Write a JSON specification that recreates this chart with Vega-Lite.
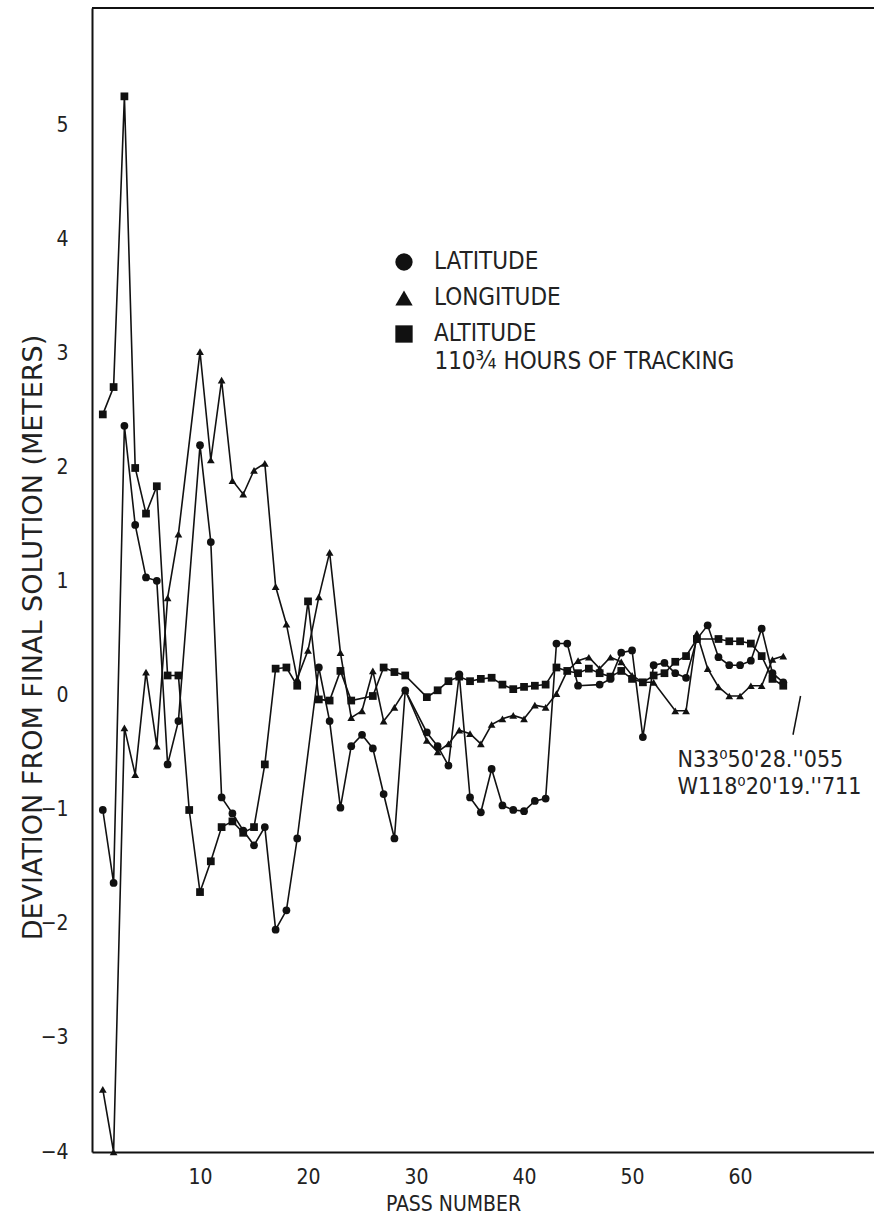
{
  "$schema": "https://vega.github.io/schema/vega-lite/v6.json",
  "width": 782,
  "height": 1144,
  "autosize": {"type": "none"},
  "padding": {"left": 92, "top": 8, "right": 0, "bottom": 70},
  "background": "white",
  "config": {
    "view": {"stroke": null},
    "font": "Liberation Sans Narrow, DejaVu Sans Condensed, Liberation Sans, sans-serif",
    "axis": {
      "domainColor": "#111",
      "domainWidth": 2,
      "ticks": false,
      "grid": false,
      "labelColor": "#222",
      "titleColor": "#222",
      "labelFont": "Liberation Sans Narrow, DejaVu Sans Condensed, sans-serif",
      "titleFont": "Liberation Sans Narrow, DejaVu Sans Condensed, sans-serif",
      "titleFontWeight": "normal"
    }
  },
  "datasets": {
    "notes": [
      {"kind": "tracking", "label": "110¾ HOURS OF TRACKING"},
      {"kind": "position", "label": "N33⁰50'28.''055"}
    ],
    "frame": [{"edge": "top"}]
  },
  "data": {
    "values": [
      {"series": "LATITUDE", "pass": 1, "value": -1.0},
      {"series": "LATITUDE", "pass": 2, "value": -1.64},
      {"series": "LATITUDE", "pass": 3, "value": 2.37},
      {"series": "LATITUDE", "pass": 4, "value": 1.5},
      {"series": "LATITUDE", "pass": 5, "value": 1.04},
      {"series": "LATITUDE", "pass": 6, "value": 1.01},
      {"series": "LATITUDE", "pass": 7, "value": -0.6},
      {"series": "LATITUDE", "pass": 8, "value": -0.22},
      {"series": "LATITUDE", "pass": 10, "value": 2.2},
      {"series": "LATITUDE", "pass": 11, "value": 1.35},
      {"series": "LATITUDE", "pass": 12, "value": -0.89},
      {"series": "LATITUDE", "pass": 13, "value": -1.03},
      {"series": "LATITUDE", "pass": 14, "value": -1.18},
      {"series": "LATITUDE", "pass": 15, "value": -1.31},
      {"series": "LATITUDE", "pass": 16, "value": -1.15},
      {"series": "LATITUDE", "pass": 17, "value": -2.05},
      {"series": "LATITUDE", "pass": 18, "value": -1.88},
      {"series": "LATITUDE", "pass": 19, "value": -1.25},
      {"series": "LATITUDE", "pass": 21, "value": 0.25},
      {"series": "LATITUDE", "pass": 22, "value": -0.22},
      {"series": "LATITUDE", "pass": 23, "value": -0.98},
      {"series": "LATITUDE", "pass": 24, "value": -0.44},
      {"series": "LATITUDE", "pass": 25, "value": -0.34},
      {"series": "LATITUDE", "pass": 26, "value": -0.46},
      {"series": "LATITUDE", "pass": 27, "value": -0.86},
      {"series": "LATITUDE", "pass": 28, "value": -1.25},
      {"series": "LATITUDE", "pass": 29, "value": 0.05},
      {"series": "LATITUDE", "pass": 31, "value": -0.32},
      {"series": "LATITUDE", "pass": 32, "value": -0.44},
      {"series": "LATITUDE", "pass": 33, "value": -0.61},
      {"series": "LATITUDE", "pass": 34, "value": 0.19},
      {"series": "LATITUDE", "pass": 35, "value": -0.89},
      {"series": "LATITUDE", "pass": 36, "value": -1.02},
      {"series": "LATITUDE", "pass": 37, "value": -0.64},
      {"series": "LATITUDE", "pass": 38, "value": -0.96},
      {"series": "LATITUDE", "pass": 39, "value": -1.0},
      {"series": "LATITUDE", "pass": 40, "value": -1.01},
      {"series": "LATITUDE", "pass": 41, "value": -0.92},
      {"series": "LATITUDE", "pass": 42, "value": -0.9},
      {"series": "LATITUDE", "pass": 43, "value": 0.46},
      {"series": "LATITUDE", "pass": 44, "value": 0.46},
      {"series": "LATITUDE", "pass": 45, "value": 0.09},
      {"series": "LATITUDE", "pass": 47, "value": 0.1},
      {"series": "LATITUDE", "pass": 48, "value": 0.15},
      {"series": "LATITUDE", "pass": 49, "value": 0.38},
      {"series": "LATITUDE", "pass": 50, "value": 0.4},
      {"series": "LATITUDE", "pass": 51, "value": -0.36},
      {"series": "LATITUDE", "pass": 52, "value": 0.27},
      {"series": "LATITUDE", "pass": 53, "value": 0.29},
      {"series": "LATITUDE", "pass": 54, "value": 0.2},
      {"series": "LATITUDE", "pass": 55, "value": 0.16},
      {"series": "LATITUDE", "pass": 56, "value": 0.5},
      {"series": "LATITUDE", "pass": 57, "value": 0.62},
      {"series": "LATITUDE", "pass": 58, "value": 0.34},
      {"series": "LATITUDE", "pass": 59, "value": 0.27},
      {"series": "LATITUDE", "pass": 60, "value": 0.27},
      {"series": "LATITUDE", "pass": 61, "value": 0.31},
      {"series": "LATITUDE", "pass": 62, "value": 0.59},
      {"series": "LATITUDE", "pass": 63, "value": 0.2},
      {"series": "LATITUDE", "pass": 64, "value": 0.12},
      {"series": "LONGITUDE", "pass": 1, "value": -3.45},
      {"series": "LONGITUDE", "pass": 2, "value": -4.0},
      {"series": "LONGITUDE", "pass": 3, "value": -0.28},
      {"series": "LONGITUDE", "pass": 4, "value": -0.69},
      {"series": "LONGITUDE", "pass": 5, "value": 0.21},
      {"series": "LONGITUDE", "pass": 6, "value": -0.44},
      {"series": "LONGITUDE", "pass": 7, "value": 0.86},
      {"series": "LONGITUDE", "pass": 8, "value": 1.42},
      {"series": "LONGITUDE", "pass": 10, "value": 3.02},
      {"series": "LONGITUDE", "pass": 11, "value": 2.07},
      {"series": "LONGITUDE", "pass": 12, "value": 2.77},
      {"series": "LONGITUDE", "pass": 13, "value": 1.89},
      {"series": "LONGITUDE", "pass": 14, "value": 1.77},
      {"series": "LONGITUDE", "pass": 15, "value": 1.98},
      {"series": "LONGITUDE", "pass": 16, "value": 2.04},
      {"series": "LONGITUDE", "pass": 17, "value": 0.96},
      {"series": "LONGITUDE", "pass": 18, "value": 0.63},
      {"series": "LONGITUDE", "pass": 19, "value": 0.15},
      {"series": "LONGITUDE", "pass": 20, "value": 0.4},
      {"series": "LONGITUDE", "pass": 21, "value": 0.87},
      {"series": "LONGITUDE", "pass": 22, "value": 1.26},
      {"series": "LONGITUDE", "pass": 23, "value": 0.38},
      {"series": "LONGITUDE", "pass": 24, "value": -0.19},
      {"series": "LONGITUDE", "pass": 25, "value": -0.13},
      {"series": "LONGITUDE", "pass": 26, "value": 0.22},
      {"series": "LONGITUDE", "pass": 27, "value": -0.22},
      {"series": "LONGITUDE", "pass": 28, "value": -0.1},
      {"series": "LONGITUDE", "pass": 29, "value": 0.05},
      {"series": "LONGITUDE", "pass": 31, "value": -0.39},
      {"series": "LONGITUDE", "pass": 32, "value": -0.49},
      {"series": "LONGITUDE", "pass": 33, "value": -0.42},
      {"series": "LONGITUDE", "pass": 34, "value": -0.3},
      {"series": "LONGITUDE", "pass": 35, "value": -0.33},
      {"series": "LONGITUDE", "pass": 36, "value": -0.42},
      {"series": "LONGITUDE", "pass": 37, "value": -0.25},
      {"series": "LONGITUDE", "pass": 38, "value": -0.2},
      {"series": "LONGITUDE", "pass": 39, "value": -0.17},
      {"series": "LONGITUDE", "pass": 40, "value": -0.2},
      {"series": "LONGITUDE", "pass": 41, "value": -0.08},
      {"series": "LONGITUDE", "pass": 42, "value": -0.1},
      {"series": "LONGITUDE", "pass": 43, "value": 0.02},
      {"series": "LONGITUDE", "pass": 44, "value": 0.22},
      {"series": "LONGITUDE", "pass": 45, "value": 0.31},
      {"series": "LONGITUDE", "pass": 46, "value": 0.34},
      {"series": "LONGITUDE", "pass": 47, "value": 0.24},
      {"series": "LONGITUDE", "pass": 48, "value": 0.34},
      {"series": "LONGITUDE", "pass": 49, "value": 0.3},
      {"series": "LONGITUDE", "pass": 50, "value": 0.18},
      {"series": "LONGITUDE", "pass": 51, "value": 0.12},
      {"series": "LONGITUDE", "pass": 52, "value": 0.12},
      {"series": "LONGITUDE", "pass": 54, "value": -0.13},
      {"series": "LONGITUDE", "pass": 55, "value": -0.13},
      {"series": "LONGITUDE", "pass": 56, "value": 0.55},
      {"series": "LONGITUDE", "pass": 57, "value": 0.24},
      {"series": "LONGITUDE", "pass": 58, "value": 0.08},
      {"series": "LONGITUDE", "pass": 59, "value": 0.0},
      {"series": "LONGITUDE", "pass": 60, "value": 0.0},
      {"series": "LONGITUDE", "pass": 61, "value": 0.09},
      {"series": "LONGITUDE", "pass": 62, "value": 0.09},
      {"series": "LONGITUDE", "pass": 63, "value": 0.32},
      {"series": "LONGITUDE", "pass": 64, "value": 0.35},
      {"series": "ALTITUDE", "pass": 1, "value": 2.47},
      {"series": "ALTITUDE", "pass": 2, "value": 2.71},
      {"series": "ALTITUDE", "pass": 3, "value": 5.26},
      {"series": "ALTITUDE", "pass": 4, "value": 2.0},
      {"series": "ALTITUDE", "pass": 5, "value": 1.6},
      {"series": "ALTITUDE", "pass": 6, "value": 1.84},
      {"series": "ALTITUDE", "pass": 7, "value": 0.18},
      {"series": "ALTITUDE", "pass": 8, "value": 0.18},
      {"series": "ALTITUDE", "pass": 9, "value": -1.0},
      {"series": "ALTITUDE", "pass": 10, "value": -1.72},
      {"series": "ALTITUDE", "pass": 11, "value": -1.45},
      {"series": "ALTITUDE", "pass": 12, "value": -1.15},
      {"series": "ALTITUDE", "pass": 13, "value": -1.1},
      {"series": "ALTITUDE", "pass": 14, "value": -1.2},
      {"series": "ALTITUDE", "pass": 15, "value": -1.15},
      {"series": "ALTITUDE", "pass": 16, "value": -0.6},
      {"series": "ALTITUDE", "pass": 17, "value": 0.24},
      {"series": "ALTITUDE", "pass": 18, "value": 0.25},
      {"series": "ALTITUDE", "pass": 19, "value": 0.09},
      {"series": "ALTITUDE", "pass": 20, "value": 0.83},
      {"series": "ALTITUDE", "pass": 21, "value": -0.03},
      {"series": "ALTITUDE", "pass": 22, "value": -0.04},
      {"series": "ALTITUDE", "pass": 23, "value": 0.22},
      {"series": "ALTITUDE", "pass": 24, "value": -0.04},
      {"series": "ALTITUDE", "pass": 26, "value": 0.0},
      {"series": "ALTITUDE", "pass": 27, "value": 0.25},
      {"series": "ALTITUDE", "pass": 28, "value": 0.21},
      {"series": "ALTITUDE", "pass": 29, "value": 0.18},
      {"series": "ALTITUDE", "pass": 31, "value": -0.01},
      {"series": "ALTITUDE", "pass": 32, "value": 0.05},
      {"series": "ALTITUDE", "pass": 33, "value": 0.13},
      {"series": "ALTITUDE", "pass": 34, "value": 0.17},
      {"series": "ALTITUDE", "pass": 35, "value": 0.13},
      {"series": "ALTITUDE", "pass": 36, "value": 0.15},
      {"series": "ALTITUDE", "pass": 37, "value": 0.16},
      {"series": "ALTITUDE", "pass": 38, "value": 0.1},
      {"series": "ALTITUDE", "pass": 39, "value": 0.06},
      {"series": "ALTITUDE", "pass": 40, "value": 0.08},
      {"series": "ALTITUDE", "pass": 41, "value": 0.09},
      {"series": "ALTITUDE", "pass": 42, "value": 0.1},
      {"series": "ALTITUDE", "pass": 43, "value": 0.25},
      {"series": "ALTITUDE", "pass": 44, "value": 0.22},
      {"series": "ALTITUDE", "pass": 45, "value": 0.2},
      {"series": "ALTITUDE", "pass": 46, "value": 0.24},
      {"series": "ALTITUDE", "pass": 47, "value": 0.2},
      {"series": "ALTITUDE", "pass": 48, "value": 0.17},
      {"series": "ALTITUDE", "pass": 49, "value": 0.22},
      {"series": "ALTITUDE", "pass": 50, "value": 0.15},
      {"series": "ALTITUDE", "pass": 51, "value": 0.12},
      {"series": "ALTITUDE", "pass": 52, "value": 0.18},
      {"series": "ALTITUDE", "pass": 53, "value": 0.2},
      {"series": "ALTITUDE", "pass": 54, "value": 0.3},
      {"series": "ALTITUDE", "pass": 55, "value": 0.35},
      {"series": "ALTITUDE", "pass": 56, "value": 0.5},
      {"series": "ALTITUDE", "pass": 58, "value": 0.5},
      {"series": "ALTITUDE", "pass": 59, "value": 0.48},
      {"series": "ALTITUDE", "pass": 60, "value": 0.48},
      {"series": "ALTITUDE", "pass": 61, "value": 0.46},
      {"series": "ALTITUDE", "pass": 62, "value": 0.35},
      {"series": "ALTITUDE", "pass": 63, "value": 0.15},
      {"series": "ALTITUDE", "pass": 64, "value": 0.09}
    ]
  },
  "layer": [
    {
      "mark": {"type": "line", "color": "#111", "strokeWidth": 1.6},
      "encoding": {
        "x": {
          "field": "pass",
          "type": "quantitative",
          "scale": {"domain": [0, 72.4], "nice": false, "zero": false},
          "axis": {
            "values": [10, 20, 30, 40, 50, 60],
            "format": "d",
            "labelFontSize": 21,
            "labelPadding": 14,
            "title": "PASS NUMBER",
            "titleFontSize": 21,
            "titleX": 361,
            "titleY": 52,
            "titleBaseline": "middle",
            "titleAnchor": "middle"
          }
        },
        "y": {
          "field": "value",
          "type": "quantitative",
          "scale": {"domain": [-4, 6.035], "nice": false, "zero": false},
          "axis": {
            "values": [-4, -3, -2, -1, 0, 1, 2, 3, 4, 5],
            "format": "d",
            "labelFontSize": 21,
            "labelPadding": 24,
            "title": "DEVIATION FROM FINAL SOLUTION (METERS)",
            "titleFont": "DejaVu Sans, sans-serif",
            "titleFontSize": 27,
            "titleX": -59,
            "titleY": 629,
            "titleBaseline": "middle",
            "titleAngle": -90
          }
        },
        "detail": {"field": "series"}
      }
    },
    {
      "mark": {"type": "point", "filled": true, "color": "#111", "opacity": 1, "size": 60},
      "encoding": {
        "x": {"field": "pass", "type": "quantitative"},
        "y": {"field": "value", "type": "quantitative"},
        "shape": {
          "field": "series",
          "type": "nominal",
          "scale": {"domain": ["LATITUDE", "LONGITUDE", "ALTITUDE"], "range": ["circle", "triangle-up", "square"]},
          "legend": {
            "orient": "none",
            "legendX": 300,
            "legendY": 242,
            "title": null,
            "symbolSize": 300,
            "symbolFillColor": "#111",
            "symbolStrokeColor": "#111",
            "symbolStrokeWidth": 0,
            "labelFontSize": 24,
            "labelColor": "#222",
            "labelFont": "Liberation Sans Narrow, DejaVu Sans Condensed, sans-serif",
            "labelOffset": 18,
            "rowPadding": 12
          }
        }
      }
    },
    {
      "data": {"name": "frame"},
      "mark": {"type": "rule", "color": "#111", "strokeWidth": 2},
      "encoding": {"y": {"datum": 6.035}}
    },
    {
      "data": {"name": "notes"},
      "transform": [{"filter": "datum.kind == 'tracking'"}],
      "mark": {"type": "text", "align": "left", "baseline": "middle", "fontSize": 24, "color": "#222", "font": "Liberation Sans Narrow, DejaVu Sans Condensed, sans-serif"},
      "encoding": {
        "x": {"datum": 31.7},
        "y": {"datum": 2.93},
        "text": {"field": "label"}
      }
    },
    {
      "data": {"name": "notes"},
      "transform": [{"filter": "datum.kind == 'position'"}],
      "mark": {"type": "text", "align": "left", "baseline": "middle", "fontSize": 23, "lineHeight": 27, "color": "#222", "font": "Liberation Sans Narrow, DejaVu Sans Condensed, sans-serif"},
      "encoding": {
        "x": {"datum": 54.2},
        "y": {"datum": -0.56},
        "text": {"value": ["N33⁰50'28.''055", "W118⁰20'19.''711"]}
      }
    },
    {
      "data": {"name": "frame"},
      "mark": {"type": "rule", "color": "#111", "strokeWidth": 1.5},
      "encoding": {
        "x": {"datum": 64.9},
        "y": {"datum": -0.34},
        "x2": {"datum": 65.6},
        "y2": {"datum": 0.0}
      }
    }
  ]
}
